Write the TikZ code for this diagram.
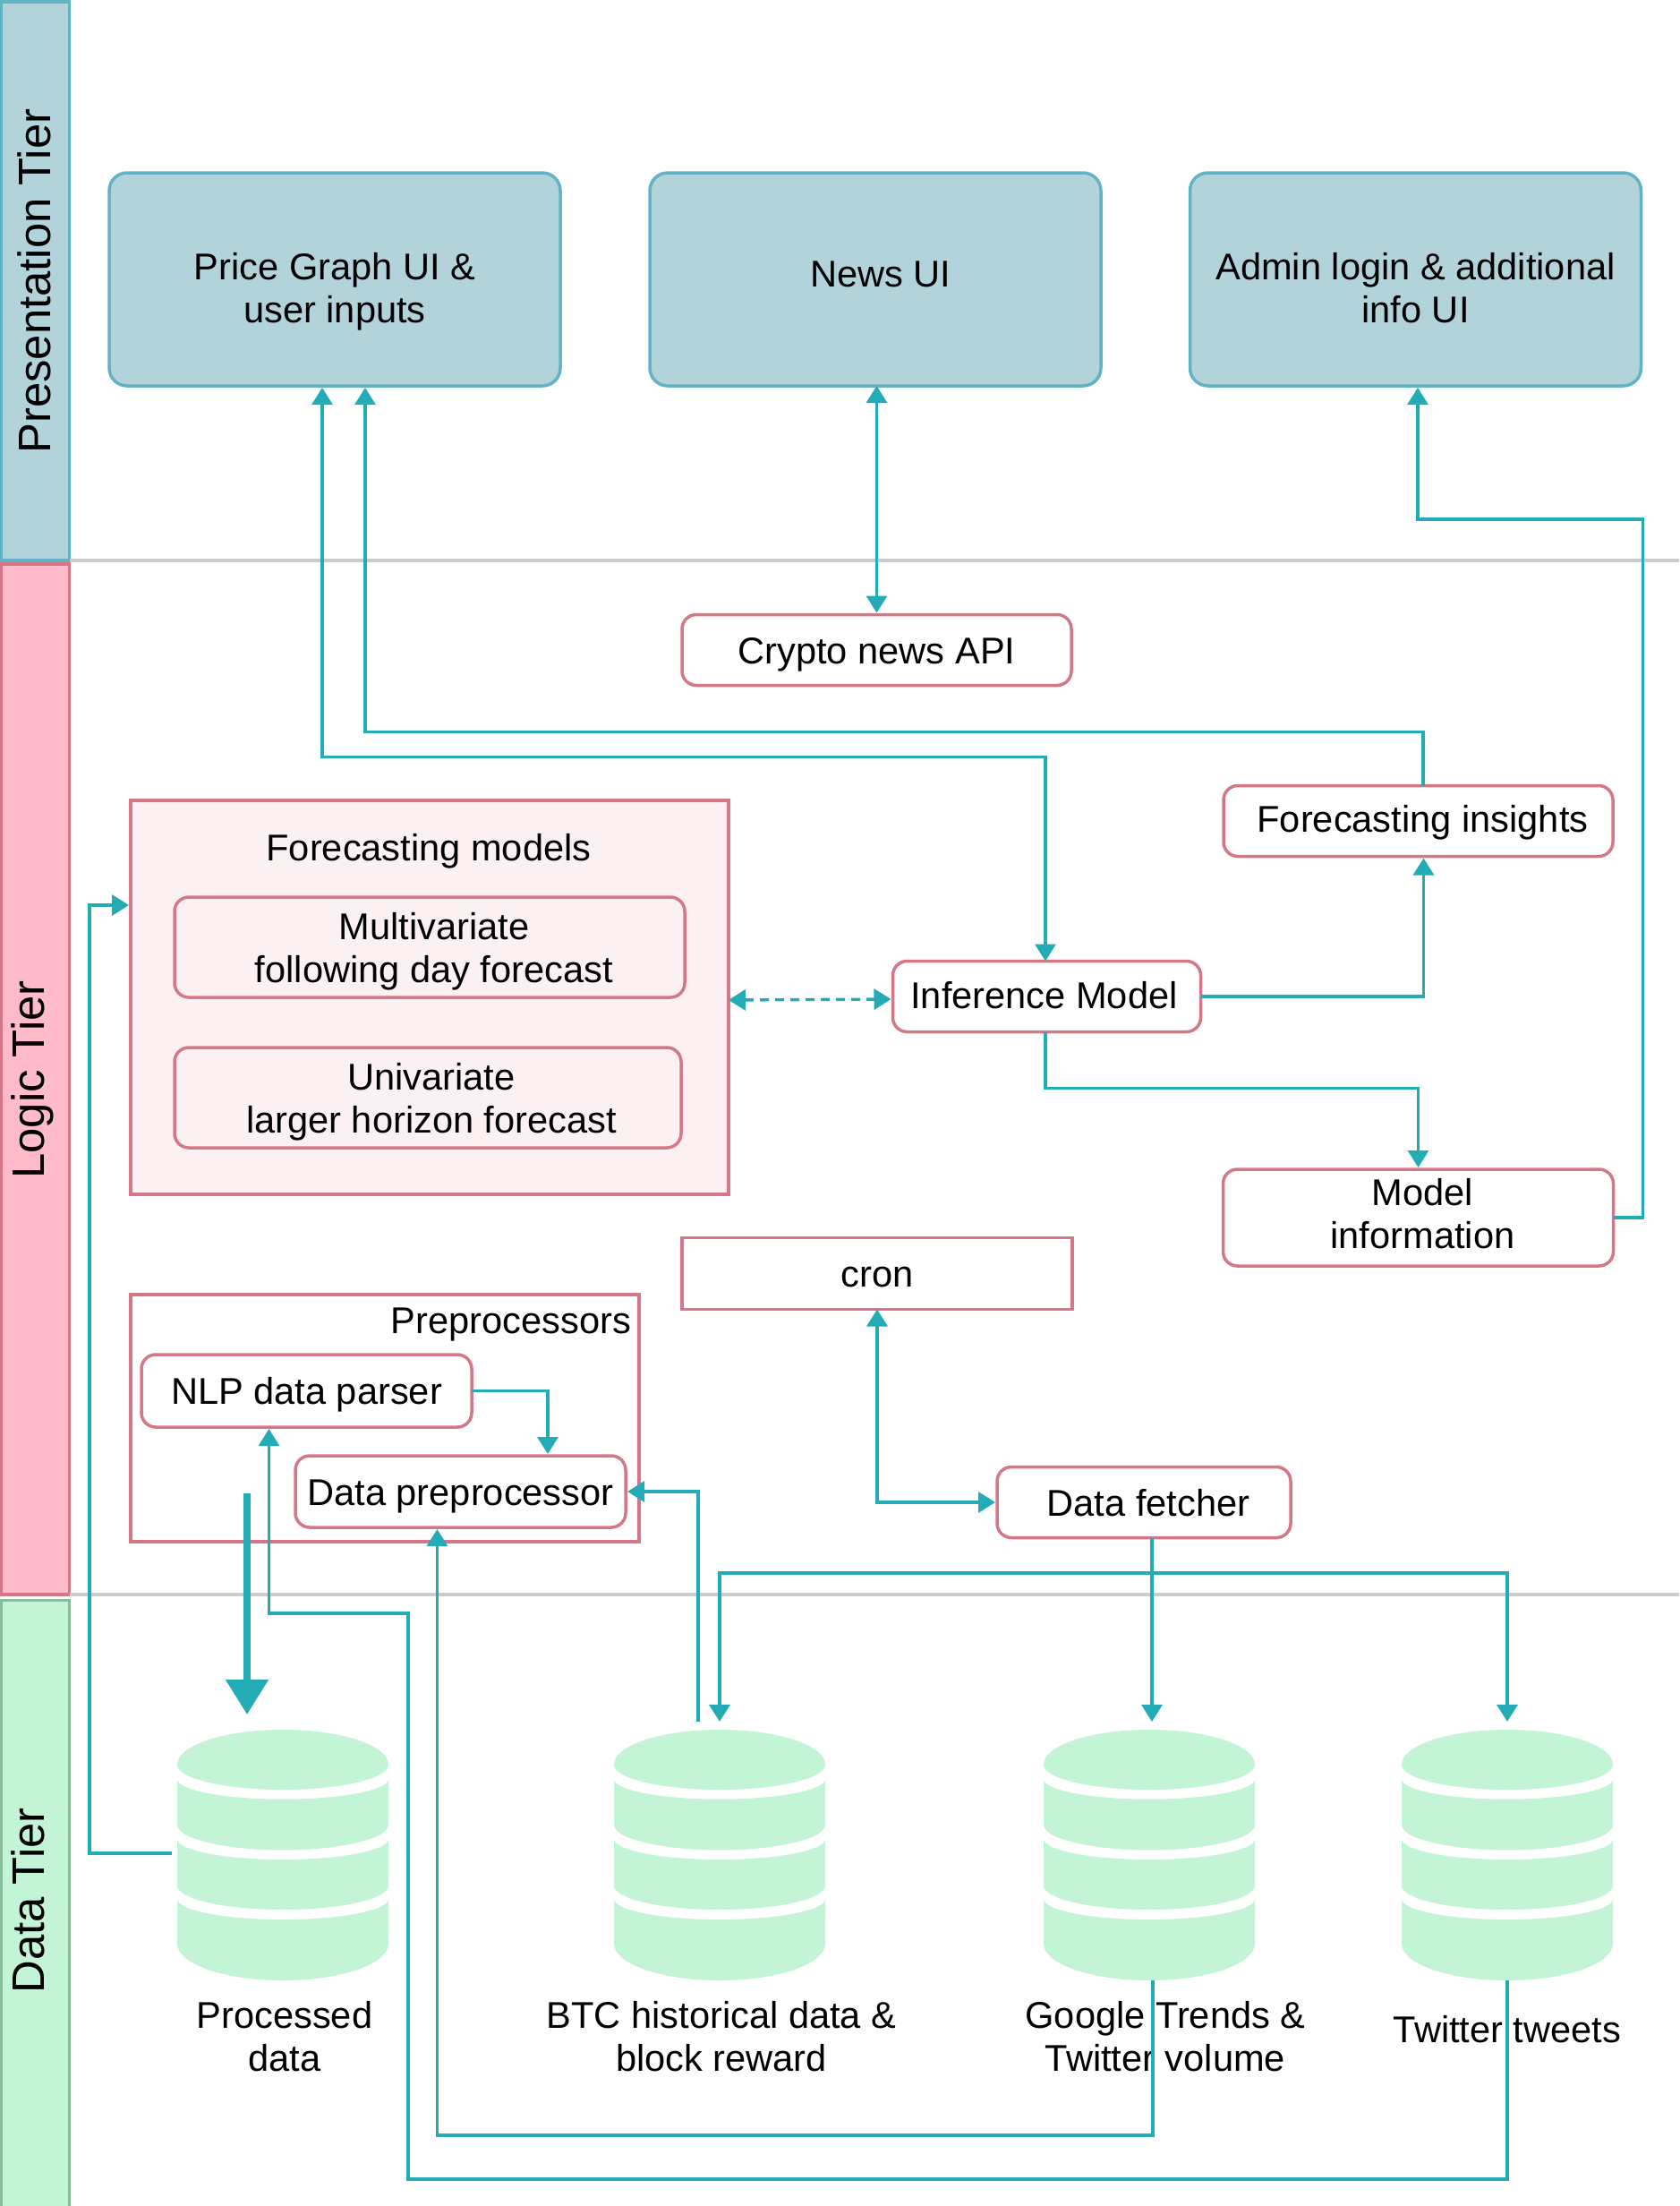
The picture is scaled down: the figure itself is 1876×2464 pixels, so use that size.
\documentclass[tikz,border=0pt]{standalone}
\usepackage{fontspec}
\setmainfont{Liberation Sans}
\usetikzlibrary{arrows.meta}
\definecolor{uifill}{HTML}{B2D3D9}
\definecolor{uidraw}{HTML}{62B3C3}
\definecolor{logicfill}{HTML}{FFBBCA}
\definecolor{logicdraw}{HTML}{D47888}
\definecolor{groupfill}{HTML}{FBF1F2}
\definecolor{datafill}{HTML}{C3F4D6}
\definecolor{datadraw}{HTML}{87BC9A}
\definecolor{teal}{HTML}{24ACB6}
\definecolor{divider}{HTML}{CCCCCC}
\tikzset{%
  label20/.style={font=\fontsize{20.8}{23.8}\selectfont, align=center,
    execute at begin node={\rule{0pt}{19.7pt}},
    execute at end node={\rule[-4.5pt]{0pt}{0pt}}},
  down/.style={execute at begin node={\rule{0pt}{#1}}},% taller text box, text sinks
  up/.style={execute at end node={\rule[-#1]{0pt}{0pt}}},% deeper text box, text rises
  box/.style={draw, line width=1.75pt, outer sep=0pt, label20},
  uibox/.style={box, draw=uidraw, fill=uifill, rounded corners=10pt,
    minimum width=252pt, minimum height=119pt},% top row screens
  logicbox/.style={box, draw=logicdraw, fill=white, rounded corners=8pt,
    minimum height=39.5pt},% rounded services
  plainbox/.style={box, draw=logicdraw, fill=white, minimum height=40pt},
  groupbox/.style={box, draw=logicdraw},% container rectangles
  tier/.style={draw, line width=1.75pt, outer sep=0pt, minimum width=38pt},
  tierlabel/.style={rotate=90, font=\fontsize{25.4}{30}\selectfont},
  dbnode/.style={inner sep=0pt, outer sep=0pt},
  split/.style={draw=divider, line width=1.75pt},
  >={Triangle[length=9.5pt,width=11.5pt]},
  link/.style={draw=teal, line width=1.7pt, shorten >=1pt, shorten <=0pt},
  bigflow/.style={draw=teal, line width=4pt,
    -{Triangle[length=19.5pt,width=23pt]}, shorten >=8.5pt}% heavy write into the store
}
\newcommand*{\dbband}[4]{
  \fill[datafill] (-118,#1) arc (180:360:59pt and #2) -- (118,#3)
    arc (0:-180:59pt and #4) -- cycle;}
\newcommand*{\database}{
\begin{tikzpicture}[x=0.5pt,y=0.5pt]
  \fill[datafill] (-118,241) arc (180:0:59pt and 19.5pt) arc (0:-180:59pt and 14pt) -- cycle;
  \dbband{225}{11.3pt}{174}{14.2pt}
  \dbband{158}{11.5pt}{106}{13.5pt}
  \dbband{91}{11.5pt}{41}{20.5pt}
\end{tikzpicture}}

\begin{document}
\begin{tikzpicture}[x=0.5pt,y=-0.5pt]
\useasboundingbox (0,0) rectangle (1876,2464);
\coordinate (splittop) at (1876,626);
\coordinate (splitlow) at (1876,1782);
\coordinate (flowstart) at (276,1668);
\coordinate (fetchsplit) at (1287,1757);

% tiers
\node[tier, draw=uidraw, fill=uifill, minimum height=312pt] (presentband) at (39.7,314) {};
\node[tier, draw=logicdraw, fill=logicfill, minimum height=575.5pt] (logicband) at (39.7,1205.5) {};
\node[tier, draw=datadraw, fill=datafill, minimum height=339pt] (databand) at (39.7,2464-337.5) {};
\node[tierlabel] (presentlabel) at (38,314) {Presentation Tier};
\node[tierlabel] (logiclabel) at (36,1206) {Logic Tier};
\node[tierlabel] (datalabel) at (31,2123) {Data Tier};
\draw[split] (presentband.south east) -- (presentband.south east -| splittop);
\draw[split] (logicband.south east) -- (logicband.south east -| splitlow);

% screens
\node[uibox, down=52.8pt] (pricegraph) at (374,312) {Price Graph UI \&\\user inputs};
\node[uibox, up=11pt] (newsui) at (978,312) {\hspace*{6pt}News UI};
\node[uibox, down=52.8pt] (adminui) at (1581.5,312) {Admin login \& additional\\info UI};

% services
\node[logicbox, minimum width=217.5pt] (cryptoapi) at (979.5,726) {Crypto news API};
\node[groupbox, fill=groupfill, minimum width=334pt, minimum height=220pt] (forecast) at (480,1114) {};
\node[label20] (forecasttitle) at (479,946) {Forecasting models};
\node[logicbox, down=44pt, fill=groupfill, minimum width=285pt, minimum height=56pt] (multivariate) at (480,1058) {\hspace*{5pt}Multivariate\\\hspace*{5pt}following day forecast};
\node[logicbox, down=44pt, fill=groupfill, minimum width=283pt, minimum height=56pt] (univariate) at (478,1226) {\hspace*{4pt}Univariate\\\hspace*{4pt}larger horizon forecast};
\node[logicbox, up=6pt, minimum width=172pt] (inference) at (1169.5,1113) {Inference Model\hspace*{3pt}};
\node[logicbox, up=7pt, minimum width=217.5pt] (insights) at (1584.5,917) {\hspace*{5pt}Forecasting insights};
\node[logicbox, minimum width=218pt, minimum height=54pt] (modelinfo) at (1584.5,1360) {\hspace*{5pt}Model\\\hspace*{5pt}information};
\node[plainbox, minimum width=218pt] (cron) at (980,1422.5) {cron};
\node[groupbox, minimum width=284pt, minimum height=138pt] (preprocessors) at (430,1584) {};
\node[label20, anchor=east] (preprocessorstitle) at (712,1474) {Preprocessors};
\node[logicbox, minimum width=184.5pt, minimum height=40.5pt] (nlp) at (342.5,1553.5) {NLP data parser};
\node[logicbox, minimum width=184.5pt, minimum height=40pt] (preproc) at (514.5,1666) {Data preprocessor};
\node[logicbox, minimum width=164pt] (fetcher) at (1278,1678) {\hspace*{5pt}Data fetcher};

% stores
\node[dbnode] (dbproc) at (316,2072) {\database};
\node[dbnode] (dbbtc) at (804,2072) {\database};
\node[dbnode] (dbgoogle) at (1284,2072) {\database};
\node[dbnode] (dbtwitter) at (1684,2072) {\database};
\node[label20] (dbproclabel) at (318,2279) {Processed\\data};
\node[label20] (dbbtclabel) at (806,2279) {BTC historical data \&\\block reward};
\node[label20] (dbgooglelabel) at (1302,2279) {Google Trends \&\\Twitter volume};
\node[label20] (dbtwitterlabel) at (1684,2266) {Twitter tweets};

% links
\draw[link, <->] ([xshift=-0.75pt]inference.north) -- ++(0,-228) -| ([xshift=-7pt]pricegraph.south);
\draw[link, ->] ([xshift=2.75pt]insights.north) -- ++(0,-60) -| ([xshift=17pt]pricegraph.south);
\draw[link, <->] (cryptoapi.north |- newsui.south) -- (cryptoapi.north);
\draw[link, ->] (modelinfo.east) -- ++(33,0) -- ++(0,-780) -| ([xshift=1.25pt]adminui.south);
\draw[link, ->] (inference.east) -| ([xshift=3pt]insights.south);
\draw[link, ->] ([xshift=-0.75pt]inference.south) -- ++(0,63) -| (modelinfo.north);
\draw[link, <->, dash pattern=on 5pt off 3.5pt] ([yshift=-1.5pt]forecast.east) -- ([yshift=-1.5pt]inference.west);
\draw[link, <->] (cron.south) |- (fetcher.west);
\draw[link, ->] (nlp.east) -| ([xshift=48.75pt]preproc.north);
\draw[link, ->, shorten >=4.5pt] ([xshift=4.5pt]fetcher.south) -- (fetchsplit |- dbgoogle.north);
\draw[link, ->, shorten >=4.5pt] (fetchsplit) -| (dbbtc.north);
\draw[link, ->, shorten >=4.5pt] (fetchsplit) -| (dbtwitter.north);
\draw[link, ->] ([xshift=-12pt,yshift=4.5pt]dbbtc.north) |- (preproc.east);
\draw[link, ->] ([xshift=2pt]dbgoogle.south) -- ++(0,173) -| ([xshift=-13pt]preproc.south);
\draw[link, ->] (dbtwitter.south) -- ++(0,222) -- ++(-1228,0) -- ++(0,-632) -| ([xshift=-21pt]nlp.south);
\draw[link, ->] ([xshift=-3pt,yshift=1pt]dbproc.west) -- ++(-92,0) |- ([yshift=51.5pt]forecast.west);
\draw[bigflow] (flowstart) -- ([xshift=-20pt]dbproc.north);
\end{tikzpicture}
\end{document}
